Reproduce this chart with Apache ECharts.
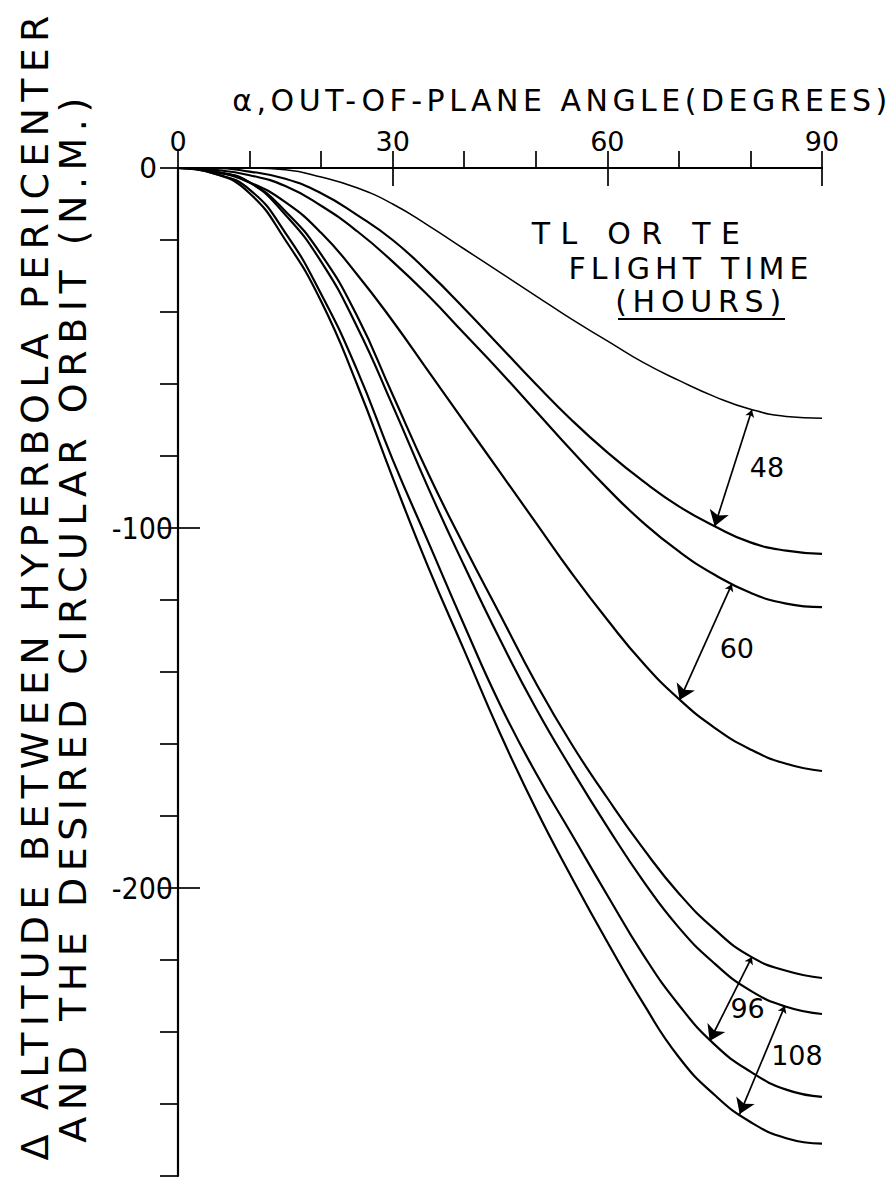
<!DOCTYPE html>
<html>
<head>
<meta charset="utf-8">
<script src="https://cdn.jsdelivr.net/npm/echarts@6/dist/echarts.min.js"></script>
<style>
html,body{margin:0;padding:0;background:#fff;}
#main{width:896px;height:1186px;}
</style>
</head>
<body>
<div id="main"></div>
<script>
// ---------------- DATA ----------------
const angles = [0,5,10,15,20,25,30,35,40,45,50,55,60,65,70,75,80,85,90];
// Δ altitude (N.M.), top to bottom at α = 90°
const alt48a  = [0,0,0,-0.5,-2.5,-5.5,-10,-16,-22.5,-29,-35.5,-42,-48,-54,-59,-63.5,-67,-69,-69.5];
const alt48b  = [0,0,-1,-3,-7,-13,-20,-29,-39,-49.5,-60,-70,-79,-87,-94,-99.5,-104,-106.3,-107.2];
const alt60a  = [0,-0.5,-2,-5,-10.5,-17.5,-26,-35.5,-46,-56.5,-67.5,-78.5,-89,-98.5,-106.5,-113,-118,-121,-122];
const alt60b  = [0,-1,-4,-9.5,-18,-29.5,-42.5,-56.5,-70.5,-84.5,-98.5,-112.5,-125.5,-137.5,-147.5,-155.5,-161.5,-165.5,-167.5];
const alt96a  = [0,-1,-4,-12,-24,-41,-63,-85,-105,-124,-143,-160,-175,-189,-201.5,-211.5,-219,-223,-225];
const alt108a = [0,-1,-4,-13,-26,-44,-66,-89,-110.5,-131,-150,-167,-183,-198,-211,-221,-228.5,-233,-235];
const alt96b  = [0,-1.5,-6,-18,-35,-56,-81,-104,-127,-149,-168,-185,-202,-218.5,-232.5,-243.5,-251,-256,-258];
const alt108b = [0,-1.5,-7,-20,-37,-60,-86,-111,-134,-157,-178,-197,-215,-232,-247,-257.5,-265,-269.5,-271];

const seriesNames = ['48 h (a)','48 h (b)','60 h (a)','60 h (b)','96 h (a)','108 h (a)','96 h (b)','108 h (b)'];
const seriesValues = [alt48a, alt48b, alt60a, alt60b, alt96a, alt108a, alt96b, alt108b];

const xTickLabels = [0, 30, 60, 90];
const yTickLabels = [0, -100, -200];

// flight-time brackets (double arrows between curves), in data units [α, Δalt]
const bracketLabels  = ['48', '60', '96', '108'];
const bracketFrom    = [[80.2,-67.2],[77.4,-115.6],[80.2,-219.2],[84.8,-232.8]];
const bracketTo      = [[75.0,-99.5],[70.1,-147.8],[74.3,-242.5],[78.5,-262.8]];
const bracketLabelAt = [[82.3,-83.2],[78.1,-133.5],[79.6,-233.6],[86.5,-246.6]];

const xTitle = 'α,OUT-OF-PLANE ANGLE(DEGREES)';
const yTitle1 = 'Δ ALTITUDE BETWEEN HYPERBOLA PERICENTER';
const yTitle2 = 'AND THE DESIRED CIRCULAR ORBIT (N.M.)';
const noteLines = ['TL OR TE', 'FLIGHT TIME', '(HOURS)'];

// ---------------- LAYOUT / STYLE ----------------
const FONT = '"DejaVu Sans", "Liberation Sans", sans-serif';
const NARROW = '"Liberation Sans Narrow", "DejaVu Sans Condensed", "DejaVu Sans", sans-serif';
const INK = '#000';
// target spans (px) of hand-lettered strings, realised with letter-spacing
const textSpans = {};
textSpans[yTitle1] = 1145;
textSpans[yTitle2] = 1045;
textSpans[xTitle] = 655;
textSpans[noteLines[0]] = 208;
textSpans[noteLines[1]] = 240;
textSpans[noteLines[2]] = 166;

const chart = echarts.init(document.getElementById('main'), null, {renderer: 'svg'});

const lineSeries = seriesValues.map((vals, i) => ({
  name: seriesNames[i],
  type: 'line',
  xAxisIndex: 0, yAxisIndex: 0,
  data: angles.map((a, j) => [a, vals[j]]),
  smooth: 0.5,
  symbol: 'none',
  lineStyle: {color: INK, width: i === 0 ? 1.5 : 2.2},
  z: 3
}));

const arrowSeries = {
  type: 'lines',
  coordinateSystem: 'cartesian2d',
  xAxisIndex: 0, yAxisIndex: 0,
  symbol: ['arrow', 'arrow'],
  symbolSize: [7, 15],
  lineStyle: {color: INK, width: 1.7, opacity: 1, curveness: 0},
  data: bracketFrom.map((f, i) => ({coords: [f, bracketTo[i]]})),
  z: 4
};

const labelSeries = {
  type: 'scatter',
  xAxisIndex: 0, yAxisIndex: 0,
  symbolSize: 0,
  itemStyle: {opacity: 1},
  data: bracketLabelAt.map((p, i) => ({value: p, name: bracketLabels[i]})),
  label: {
    show: true, position: 'inside', formatter: p => p.name,
    color: INK, opacity: 1, fontFamily: FONT, fontSize: 27
  },
  z: 5
};

const textStyle = (text, size) => ({text, font: size + 'px ' + FONT, fill: INK, textAlign: 'center', textVerticalAlign: 'middle'});

const graphics = [
  {type: 'text', x: 35, y: 585, rotation: Math.PI / 2, style: textStyle(yTitle1, 38)},
  {type: 'text', x: 73, y: 617, rotation: Math.PI / 2, style: textStyle(yTitle2, 38)},
  {type: 'text', x: 562, y: 100, style: textStyle(xTitle, 30)},
  {type: 'text', x: 641, y: 233, style: textStyle(noteLines[0], 30)},
  {type: 'text', x: 691, y: 268, style: textStyle(noteLines[1], 30)},
  {type: 'text', x: 701, y: 301, style: textStyle(noteLines[2], 30)},
  {type: 'line', shape: {x1: 618, y1: 319, x2: 785, y2: 319}, style: {stroke: INK, lineWidth: 2}}
];

const option = {
  backgroundColor: '#fff',
  animation: false,
  grid: {left: 178, right: 74, top: 168, bottom: 10, containLabel: false},
  xAxis: [
    {
      type: 'value', position: 'top', min: 0, max: 90, interval: 10,
      axisLine: {show: true, onZero: false, lineStyle: {color: INK, width: 2.2}},
      axisTick: {show: true, inside: false, length: 17, lineStyle: {color: INK, width: 1.7}},
      axisLabel: {
        show: true, customValues: xTickLabels, margin: 13,
        formatter: v => (xTickLabels.indexOf(v) >= 0 ? String(v) : ''),
        color: INK, fontFamily: FONT, fontSize: 27
      },
      splitLine: {show: false}
    },
    {
      type: 'value', position: 'top', min: 0, max: 90, gridIndex: 0,
      axisLine: {show: false},
      axisTick: {show: true, inside: true, length: 18, customValues: xTickLabels.slice(1), lineStyle: {color: INK, width: 1.7}},
      axisLabel: {show: false},
      splitLine: {show: false}
    }
  ],
  yAxis: [
    {
      type: 'value', position: 'left', min: -280, max: 0, interval: 20,
      axisLine: {show: true, onZero: false, lineStyle: {color: INK, width: 2.2}},
      axisTick: {show: true, inside: false, length: 18, lineStyle: {color: INK, width: 1.7}},
      axisLabel: {
        show: true, customValues: yTickLabels, margin: 5,
        formatter: v => (yTickLabels.indexOf(v) < 0 ? '' : (v === 0 ? '{z|' + v + '}' : String(v))),
        rich: {z: {padding: [0, 16, 0, 0], fontSize: 28, fontFamily: FONT, color: INK}},
        color: INK, fontFamily: NARROW, fontSize: 30
      },
      splitLine: {show: false}
    },
    {
      type: 'value', position: 'left', min: -280, max: 0, gridIndex: 0,
      axisLine: {show: false},
      axisTick: {show: true, inside: true, length: 22, customValues: yTickLabels.slice(1), lineStyle: {color: INK, width: 1.7}},
      axisLabel: {show: false},
      splitLine: {show: false}
    }
  ],
  graphic: graphics,
  series: lineSeries.concat([arrowSeries, labelSeries])
};

chart.setOption(option);

function spreadLettering() {
  document.querySelectorAll('#main svg text').forEach(t => {
    const target = textSpans[t.textContent];
    if (!target) return;
    t.removeAttribute('letter-spacing');
    const n = t.textContent.length;
    const natural = t.getComputedTextLength();
    const ls = (target - natural) / Math.max(1, n - 1);
    if (ls > 0) t.setAttribute('letter-spacing', ls.toFixed(2));
  });
}
chart.on('finished', spreadLettering);
setTimeout(spreadLettering, 50);
setTimeout(spreadLettering, 400);
</script>
</body>
</html>
